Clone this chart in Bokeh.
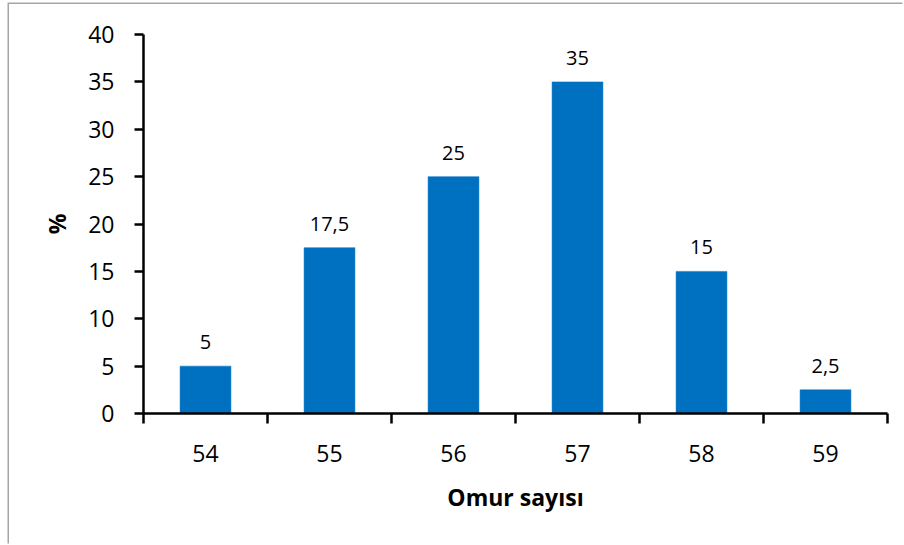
from bokeh.plotting import figure
from bokeh.models import ColumnDataSource, FixedTicker, Range1d, LabelSet
from bokeh.core.properties import value
from bokeh.embed import file_html
from bokeh.resources import INLINE

# Lifetime distribution (share of units by age in years)
ages = [54, 55, 56, 57, 58, 59]
percent = [5, 17.5, 25, 35, 15, 2.5]
y_ticks = [0, 5, 10, 15, 20, 25, 30, 35, 40]

FONT = "Open Sans"
BAR_COLOR = "#0070C0"


def fmt(v):
    s = ("%g" % v)
    return s.replace(".", ",")


source = ColumnDataSource(dict(
    age=ages,
    pct=percent,
    label=[fmt(v) for v in percent],
))

p = figure(
    width=895, height=541,
    x_range=Range1d(ages[0] - 0.5, ages[-1] + 0.5),
    y_range=Range1d(y_ticks[0], y_ticks[-1]),
    output_backend="svg", toolbar_location=None, tools="",
    min_border_left=134, min_border_right=17,
    min_border_top=30, min_border_bottom=132,
    margin=(4, 0, 0, 9),
)
p.styles = {"box-shadow": "-1.5px -1.5px 0 0 #a6a6a6"}
p.outline_line_color = None
p.grid.grid_line_color = None
p.background_fill_color = "white"
p.border_fill_color = "white"

p.vbar(x="age", top="pct", width=0.41, bottom=0, source=source,
       fill_color=BAR_COLOR, line_color=BAR_COLOR, line_width=0.5)

labels = LabelSet(x="age", y="pct", text="label", source=source,
                  text_align="center", text_baseline="alphabetic",
                  y_offset=17, text_font=value(FONT),
                  text_font_size=value("20px"), text_color="black")
p.add_layout(labels)

# x axis: category labels at centres, tick marks on category boundaries
xa = p.xaxis[0]
xa.ticker = FixedTicker(ticks=ages,
                        minor_ticks=[a - 0.5 for a in ages] + [ages[-1] + 0.5])
xa.major_tick_out = 0
xa.major_tick_in = 0
xa.minor_tick_out = 10
xa.minor_tick_in = 0
xa.minor_tick_line_color = "black"
xa.minor_tick_line_width = 2.5
xa.axis_line_color = "black"
xa.axis_line_width = 2.5
xa.major_label_text_font = FONT
xa.major_label_text_font_size = "23px"
xa.major_label_text_color = "black"
xa.major_label_standoff = 21
xa.axis_label = "Omur sayısı"
xa.axis_label_text_font = FONT
xa.axis_label_text_font_style = "bold"
xa.axis_label_text_font_size = "23px"
xa.axis_label_text_color = "black"
xa.axis_label_standoff = 16

ya = p.yaxis[0]
ya.ticker = FixedTicker(ticks=y_ticks, minor_ticks=[])
ya.major_tick_out = 9
ya.major_tick_in = 0
ya.major_tick_line_color = "black"
ya.major_tick_line_width = 2.5
ya.axis_line_color = "black"
ya.axis_line_width = 2.5
ya.major_label_text_font = FONT
ya.major_label_text_font_size = "23px"
ya.major_label_text_color = "black"
ya.major_label_standoff = 20
ya.axis_label = "%"
ya.axis_label_text_font = FONT
ya.axis_label_text_font_style = "bold"
ya.axis_label_text_font_size = "23px"
ya.axis_label_text_color = "black"
ya.axis_label_standoff = 12

open("out.html", "w").write(file_html(p, INLINE))
